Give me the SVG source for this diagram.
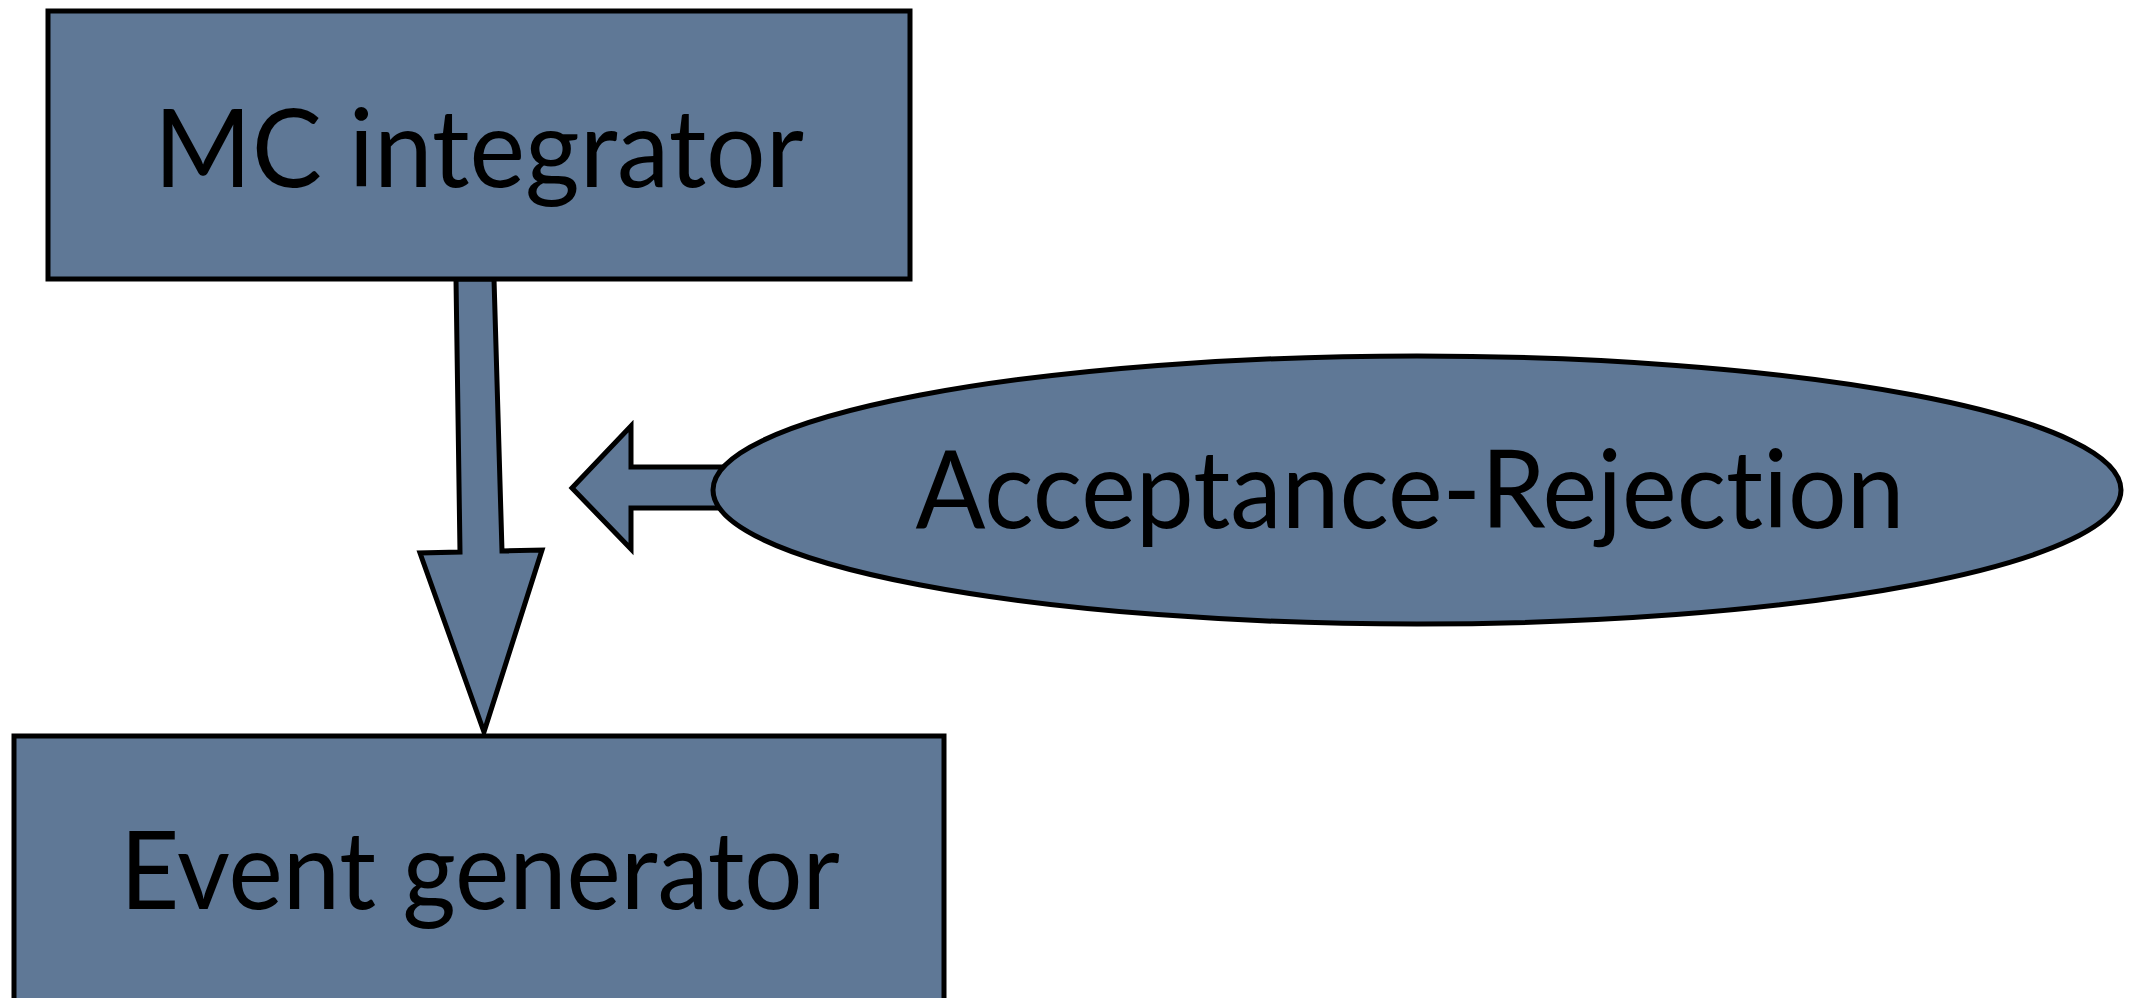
<svg xmlns="http://www.w3.org/2000/svg" width="2136" height="998" viewBox="0 0 2136 998">
<style>
.shape{fill:#5f7896;stroke:#000;stroke-width:5;stroke-linejoin:miter}
.lbl{font-family:Lato,"Open Sans","Liberation Sans",sans-serif;font-size:108px;fill:#000;text-anchor:middle;font-variant-ligatures:none;font-feature-settings:"liga" 0,"clig" 0}
</style>
<rect width="2136" height="998" fill="#fff"/>
<g id="connectors">
<polygon class="shape" points="456,279 494,279 502,551 542,550 484,732 420,553 460,552"/>
<polygon class="shape" points="572,488 631,426 631,467 730,467 730,508 631,508 631,549"/>
</g>
<g id="mc-integrator">
<rect class="shape" x="48" y="11" width="862" height="268"/>
<text class="lbl" x="479" y="187" textLength="650" lengthAdjust="spacingAndGlyphs">MC integrator</text>
</g>
<g id="acceptance-rejection">
<ellipse class="shape" cx="1417" cy="490" rx="704" ry="134"/>
<text class="lbl" x="1410" y="528" textLength="989" lengthAdjust="spacingAndGlyphs">Acceptance-Rejection</text>
</g>
<g id="event-generator">
<rect class="shape" x="14" y="736" width="930" height="280"/>
<text class="lbl" x="480" y="909" textLength="720" lengthAdjust="spacingAndGlyphs">Event generator</text>
</g>
</svg>
